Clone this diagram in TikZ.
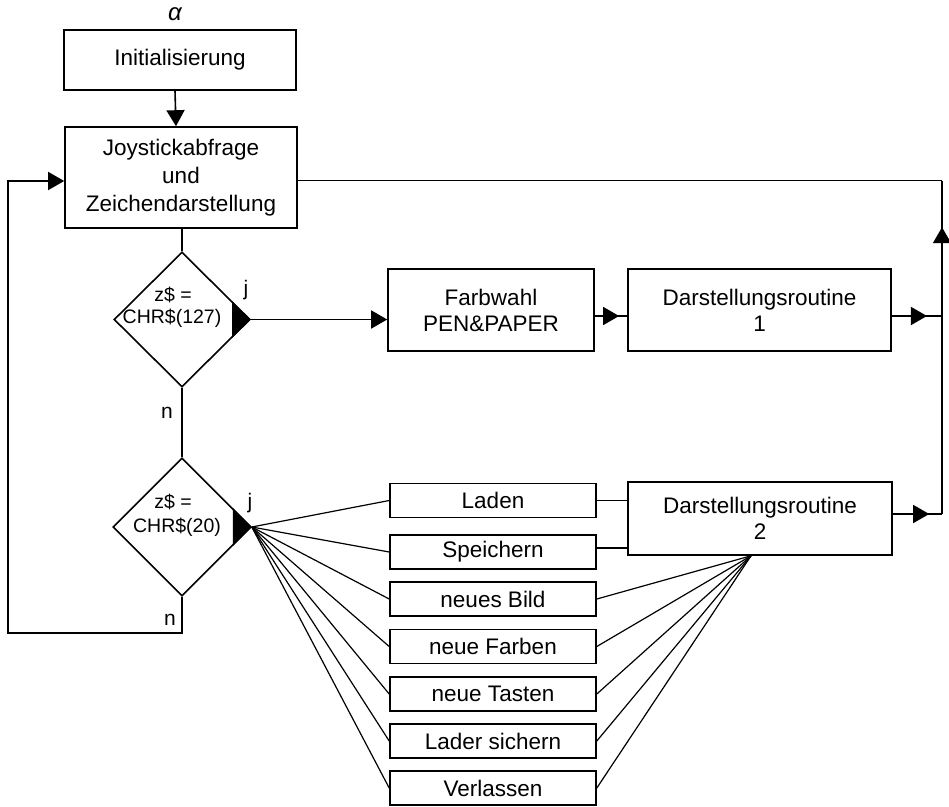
\documentclass[tikz,border=0pt]{standalone}
\usepackage{fontspec}
\setmainfont{Liberation Sans}
\usetikzlibrary{arrows.meta,shapes.geometric,decorations.markings,calc}
\begin{document}
\begin{tikzpicture}[x=1pt,y=-1pt, line width=1.6pt, line join=miter,
  box/.style={draw, inner sep=0pt, minimum width=206pt, minimum height=34pt, align=center,
    font=\fontsize{22.5}{26}\selectfont},
  tip/.style={-{Triangle[length=16pt,width=18pt]}},
  midarr/.style={decoration={markings, mark=at position #1 with {\arrow{Triangle[length=16pt,width=18pt]}}}, postaction={decorate}},
  dia/.style={draw, diamond, inner sep=0pt},
  dtext/.style={inner sep=0pt, font=\fontsize{19.5}{20}\selectfont},
  lab/.style={inner sep=0pt, font=\fontsize{21}{21}\selectfont}]
\useasboundingbox (0,0) rectangle (949,806);

\node[lab, font=\fontsize{24}{24}\selectfont\itshape] (alpha) at (175,14) {α};
\node[box, minimum width=232pt, minimum height=60pt] (init) at (180,60) {Initialisierung};
\node[box, minimum width=232pt, minimum height=101pt, font=\fontsize{22.5}{28}\selectfont] (joy) at (181,177.5) {Joystickabfrage\\und\\Zeichendarstellung};

\node[dia, minimum width=136pt, minimum height=135pt] (d1) at (182,319.5) {};
\node[dia, minimum width=138pt, minimum height=138pt] (d2) at (182,527) {};
\node[dtext] (d1a) at (173,295) {z\$ =};
\node[dtext] (d1b) at (172,318) {CHR\$(127)};
\node[dtext] (d2a) at (173,502) {z\$ =};
\node[dtext] (d2b) at (177,527) {CHR\$(20)};
\fill (d1.east) -- ($(d1.east)!0.27!(d1.north)$) -- ($(d1.east)!0.27!(d1.south)$) -- cycle;
\fill (d2.east) -- ($(d2.east)!0.27!(d2.north)$) -- ($(d2.east)!0.27!(d2.south)$) -- cycle;
\node[lab] (j1) at (246,290) {j};
\node[lab] (j2) at (250,503) {j};
\node[lab] (n1) at (167,413) {n};
\node[lab] (n2) at (170,620) {n};

\node[box, minimum width=206pt, minimum height=82pt] (farb) at (491,310) {Farbwahl\\PEN\&PAPER};
\node[box, minimum width=263pt, minimum height=82pt] (dars1) at (759.5,310) {Darstellungsroutine\\1};
\node[box, minimum width=264pt, minimum height=73pt] (dars2) at (760,518.5) {Darstellungsroutine\\2};

\foreach \n/\t/\y in {b1/Laden/500.5, b2/Speichern/552, b3/neues Bild/599, b4/neue Farben/646.5, b5/neue Tasten/694, b6/Lader sichern/741, b7/Verlassen/788}
  \node[box] (\n) at (493,\y) {\t};

\coordinate (L) at (8,633);
\coordinate (Rtop) at (942,180.5);
\coordinate (Rbot) at (942,514);
\coordinate (F) at ($(dars2.south)+(-9,0)$);

% main flow
\draw[tip] ([xshift=-5pt]init.south) -- ([xshift=-5pt]joy.north);
\draw (joy.south -| d1.north) -- (d1.north);
\draw (d1.south) -- (d2.north);
\draw[tip] (d2.south) |- (L) |- ([yshift=-3.5pt]joy.west);
\draw[tip] (d1.east) -- (d1.east -| farb.west);
\draw[midarr=0.75] ([yshift=-6pt]farb.east) -- ([yshift=-6pt]farb.east -| dars1.west);
\draw[midarr=0.7] ([yshift=-6pt]dars1.east) -- ([yshift=-6pt]dars1.east -| Rtop);
\draw[midarr=0.74] ([yshift=4.5pt]dars2.east) -- (Rbot);
\draw[midarr=0.86] (Rbot) -- (Rtop);
\draw ([yshift=-3pt]joy.east) -- (Rtop);

% fan
\foreach \n in {b1,b2,b3,b4,b5,b6,b7} \draw[line width=1.2pt] (d2.east) -- (\n.west);
\foreach \n in {b3,b4,b5,b6,b7} \draw[line width=1.2pt] (F) -- (\n.east);
\draw (b1.east) -- (b1.east -| dars2.west);
\draw ([yshift=4pt]b2.east) -- ([yshift=4pt]b2.east -| dars2.west);
\end{tikzpicture}
\end{document}
